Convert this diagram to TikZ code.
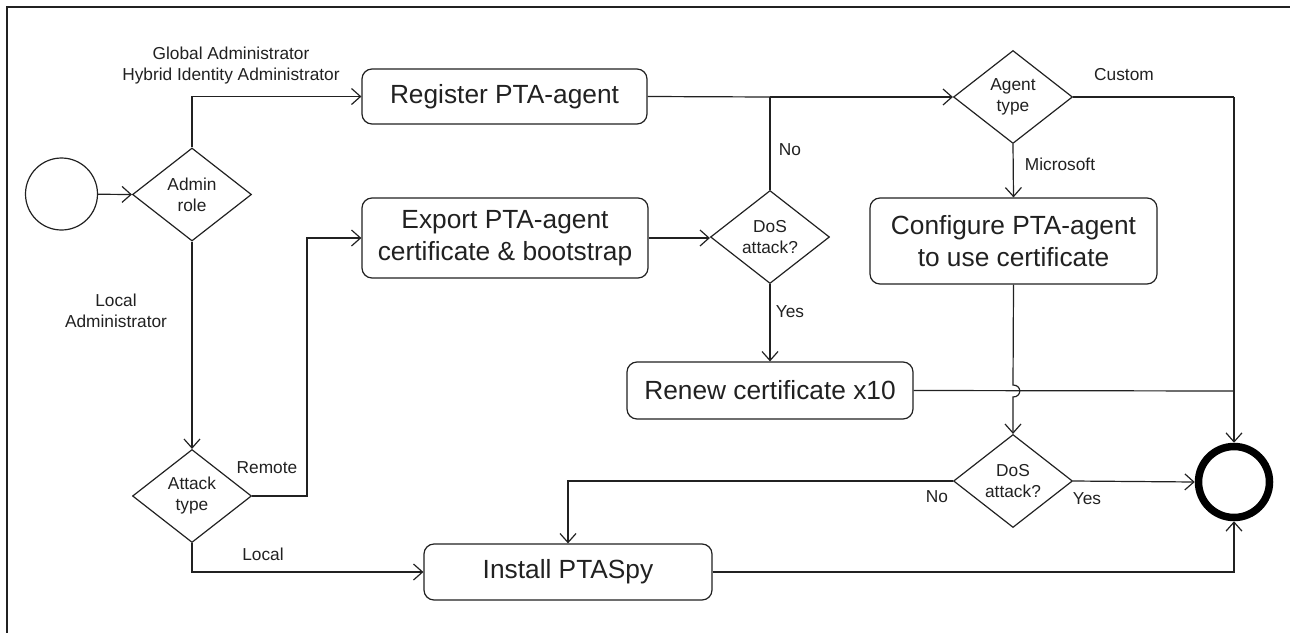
\documentclass[tikz,border=0pt]{standalone}
\usepackage{fontspec}
\setmainfont{Liberation Sans}
\usetikzlibrary{shapes.geometric,arrows.meta}
\newcommand\smallf{\fontsize{17.3}{21}\selectfont}
\newcommand\bigf{\fontsize{26.3}{32}\selectfont}
\definecolor{ink}{gray}{0.13}
\tikzset{
  proc/.style={draw=ink, line width=1.2pt, rounded corners=10pt, align=center, inner sep=0pt, font=\bigf, text=ink},
  dec/.style={draw=ink, line width=1.2pt, diamond, aspect=1.28, minimum width=119pt, minimum height=93pt, inner sep=0pt, align=center, font=\smallf, text=ink},
  lbl/.style={align=center, inner sep=0pt, font=\smallf, text=ink},
  flow/.style={draw=ink, line width=1.2pt, -{Straight Barb[length=9pt,width=16pt]}},
  plain/.style={draw=ink, line width=1.2pt},
}
\begin{document}
\begin{tikzpicture}[x=1pt,y=-1pt]
\useasboundingbox (0,0) rectangle (1290,632);
\begin{scope}
\clip (0,0) rectangle (1290,632);
\draw[ink, line width=1.3pt] (7,7) rectangle (1320,660);
\end{scope}
% nodes
\node[draw=ink, line width=1.2pt, circle, minimum size=72pt, inner sep=0pt] (start) at (61.5,194) {};
\node[dec] (admin) at (192,194.5) {Admin\\role};
\node[dec] (atk) at (192,496) {Attack\\type};
\node[proc, minimum width=285pt, minimum height=55pt] (reg) at (504.5,96.5) {Register PTA-agent};
\node[proc, minimum width=286pt, minimum height=80pt] (exp) at (505,238) {Export PTA-agent\\certificate \& bootstrap};
\node[dec] (dos1) at (770,237) {DoS\\attack?};
\node[dec] (agent) at (1013,97) {Agent\\type};
\node[proc, minimum width=287pt, minimum height=86pt] (conf) at (1013.5,241) {Configure PTA-agent\\to use certificate};
\node[proc, minimum width=286pt, minimum height=57pt] (renew) at (770,390.5) {Renew certificate x10};
\node[dec] (dos2) at (1013,481) {DoS\\attack?};
\node[proc, minimum width=288pt, minimum height=56pt] (inst) at (568,572) {Install PTASpy};
\node[draw=black, line width=7.5pt, circle, minimum size=71pt, inner sep=0pt] (end) at (1234,482) {};
% coordinates
\coordinate (j1) at (770,97);
\coordinate (j2) at (1234,97);
\coordinate (j3) at (1234,391);
% connectors
\draw[flow] (start) -- (admin.west);
\draw[flow] (admin.north) |- (reg.west);
\draw[flow] (admin.south) -- (atk.north);
\draw[flow] (atk.east) -- (307,496) |- (exp.west);
\draw[flow] (atk.south) |- (inst.west);
\draw[flow] (exp.east) -- (dos1.west |- exp.east);
\draw[plain] (reg.east) -- (j1);
\draw[flow] (j1) -- (agent.west);
\draw[plain] (dos1.north) -- (j1);
\draw[flow] (dos1.south) -- (renew.north);
\draw[flow] (agent.south) -- (conf.north);
\draw[plain] (agent.east) -- (j2);
\draw[flow] (j2) -- (end.north);
\draw[plain] (renew.east) -- (j3);
\draw[flow] (conf.south) -- (1013,385) .. controls (1022,385) and (1022,397) .. (1013,397) -- (dos2.north);
\draw[flow] (dos2.east) -- (end.west);
\draw[flow] (dos2.west) -- (568,481) -- (inst.north);
\draw[flow] (inst.east) -- (1234,572) -- (end.south);
% labels
\node[lbl] at (231,66) {Global Administrator\\Hybrid Identity Administrator};
\node[lbl] at (116,311) {Local\\Administrator};
\node[lbl] at (267,468) {Remote};
\node[lbl] at (263,554) {Local};
\node[lbl] at (790,150) {No};
\node[lbl] at (790,312) {Yes};
\node[lbl] at (1060,164) {Microsoft};
\node[lbl] at (1124,75) {Custom};
\node[lbl] at (937,497) {No};
\node[lbl] at (1087,499) {Yes};
\end{tikzpicture}
\end{document}
